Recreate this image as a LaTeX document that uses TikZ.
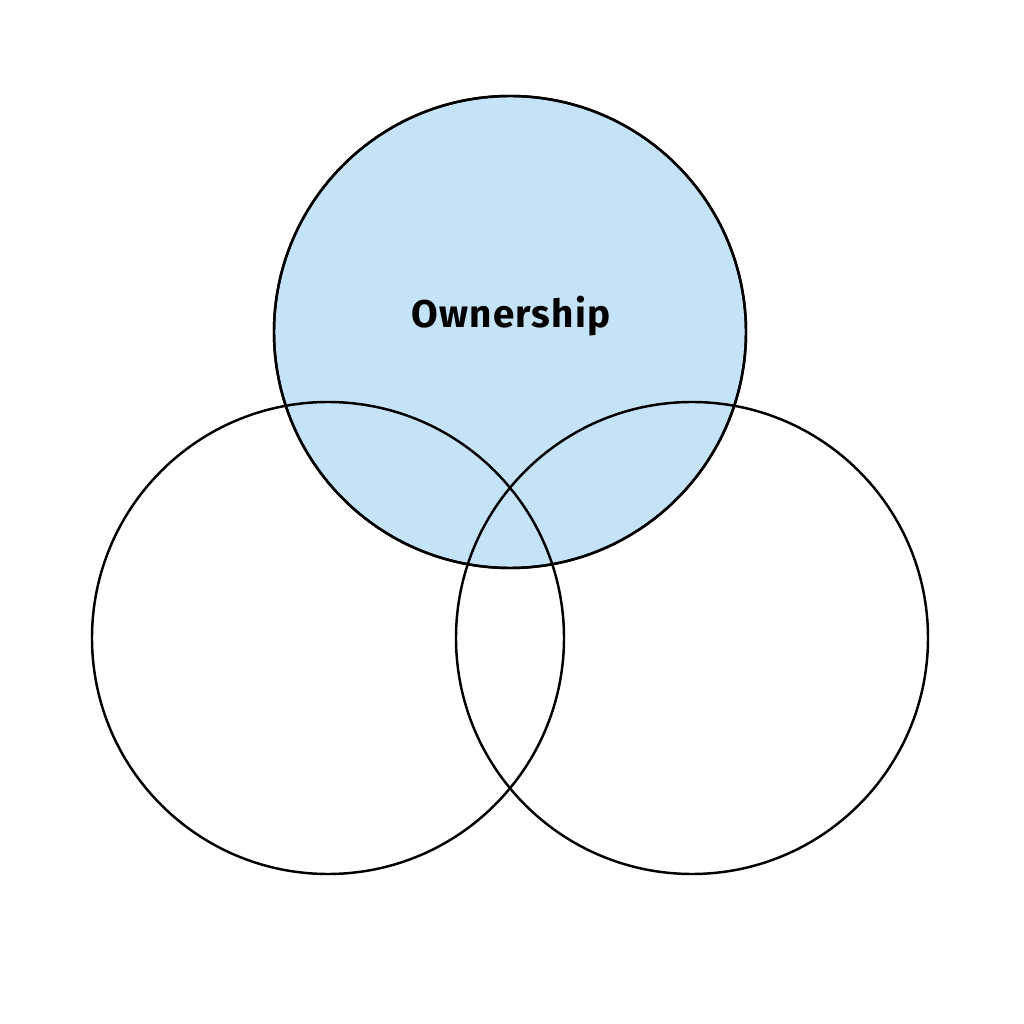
\documentclass[tikz,border=0pt]{standalone}
\usepackage{fontspec}
\setmainfont{Fira Sans}
\newfontfamily\labelfont{Fira Sans}[LetterSpace=3]
\usepackage{xcolor}
\usetikzlibrary{positioning}

\definecolor{ownblue}{HTML}{C5E3F6}

\tikzset{
    venn/.style={circle, draw=black, line width=0.7pt, minimum size=4.72cm, inner sep=0pt}
}

\begin{document}
\begin{tikzpicture}
    \def\r{2.36}
    \useasboundingbox (0,0) rectangle (10.24,10.24);

    % Top circle (filled)
    \node[venn, fill=ownblue] (own) at (5.10, 6.92) {};

    % Lower circles
    \node[venn] (left) at (3.28, 3.86) {};
    \node[venn] (right) at (6.92, 3.86) {};

    % Redraw top outline over the others
    \draw[line width=0.7pt] (own.center) circle (\r);

    % Label
    \node[font=\labelfont\bfseries\fontsize{11}{13}\selectfont] (ownlabel) at (5.11, 7.08) {Ownership};
\end{tikzpicture}
\end{document}
